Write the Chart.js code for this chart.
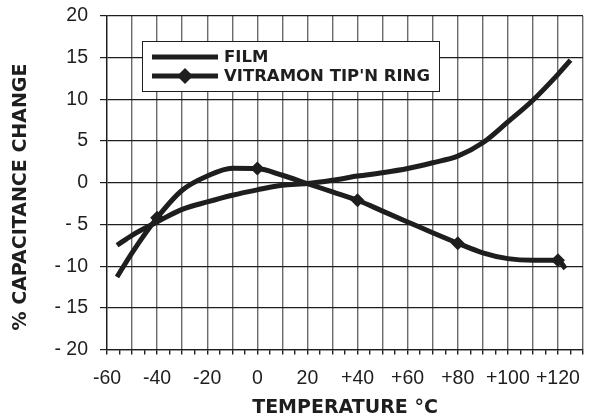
<!DOCTYPE html>
<html>
<head>
<meta charset="utf-8">
<script src="https://cdn.jsdelivr.net/npm/chart.js@4.4.1/dist/chart.umd.min.js"></script>
<style>
  body { margin: 0; background: #fff; }
  canvas { display: block; }
</style>
</head>
<body>
<canvas id="chart" width="589" height="419"></canvas>
<script>
// values
const filmTemps = [-56, -50, -40, -30, -20, -10, 0, 10, 20, 30, 40, 50, 60, 70, 80, 90, 100, 110, 120, 125];
const filmValues = [-7.5, -6.3, -4.7, -3.2, -2.3, -1.5, -0.85, -0.3, -0.1, 0.3, 0.8, 1.2, 1.7, 2.4, 3.2, 4.8, 7.3, 9.9, 13.0, 14.7];

const vitramonTemps = [-56, -50, -40, -30, -20, -10, 0, 10, 20, 30, 40, 50, 60, 70, 80, 90, 100, 110, 120, 123];
const vitramonValues = [-11.3, -8.4, -4.2, -0.9, 0.8, 1.75, 1.7, 0.9, -0.1, -1.1, -2.1, -3.4, -4.7, -6.0, -7.25, -8.4, -9.1, -9.3, -9.3, -10.3];
const vitramonMarkers = [-40, 0, 40, 80, 120];

const xTickLabels = { '-60': '-60', '-40': '-40', '-20': '-20', '0': '0', '20': '20', '40': '+40', '60': '+60', '80': '+80', '100': '+100', '120': '+120' };

const ink = '#1e1e1e';
const boldFont = 'bold 19px "DejaVu Sans"';
const tickFont = { family: 'Liberation Sans', size: 19.5 };

function points(xs, ys) {
    return xs.map(function(x, i) { return { x: x, y: ys[i] }; });
}

const overlay = {
    id: 'overlay',
    afterDraw: function(chart) {
        const c = chart.ctx;
        c.save();
        // y axis title
        c.translate(21, 197);
        c.rotate(-Math.PI / 2);
        c.font = boldFont;
        c.fillStyle = ink;
        c.textAlign = 'center';
        c.textBaseline = 'middle';
        c.fillText('% CAPACITANCE CHANGE', 0, 0);
        c.restore();

        // legend box inside the plot
        c.save();
        c.fillStyle = '#fff';
        c.fillRect(142, 41, 297, 50);
        c.strokeStyle = ink;
        c.lineWidth = 1;
        c.strokeRect(142.5, 41.5, 297, 50);
        const rows = [57, 76];
        chart.data.datasets.forEach(function(ds, i) {
            const y = rows[i];
            c.strokeStyle = ds.borderColor;
            c.lineWidth = ds.borderWidth;
            c.beginPath();
            c.moveTo(152, y);
            c.lineTo(218, y);
            c.stroke();
            if (ds.pointStyle === 'rectRot') {
                c.fillStyle = ds.borderColor;
                c.beginPath();
                c.moveTo(185, y - 8);
                c.lineTo(193, y);
                c.lineTo(185, y + 8);
                c.lineTo(177, y);
                c.closePath();
                c.fill();
            }
            c.fillStyle = ink;
            c.font = 'bold 16.5px "DejaVu Sans"';
            c.textAlign = 'left';
            c.textBaseline = 'middle';
            c.fillText(ds.label, 224, y + 1);
        });
        c.restore();
    }
};

new Chart(document.getElementById('chart'), {
    type: 'line',
    data: {
        datasets: [{
            label: 'FILM',
            data: points(filmTemps, filmValues),
            borderColor: ink,
            borderWidth: 5,
            pointRadius: 0,
            cubicInterpolationMode: 'monotone'
        }, {
            label: "VITRAMON TIP'N RING",
            data: points(vitramonTemps, vitramonValues),
            borderColor: ink,
            backgroundColor: ink,
            borderWidth: 5,
            pointStyle: 'rectRot',
            pointRadius: function(ctx) {
                return vitramonMarkers.indexOf(ctx.raw.x) >= 0 ? 7 : 0;
            },
            pointBackgroundColor: ink,
            pointBorderWidth: 0,
            cubicInterpolationMode: 'monotone'
        }]
    },
    options: {
        responsive: false,
        animation: false,
        layout: { padding: { top: 16, right: 6, left: 0, bottom: 0 } },
        plugins: {
            legend: { display: false },
            tooltip: { enabled: false }
        },
        scales: {
            x: {
                type: 'linear',
                min: -60,
                max: 130,
                afterFit: function(scale) {
                    scale.height = 69.5;
                    scale.paddingLeft = 0;
                    scale.paddingRight = 0;
                },
                ticks: {
                    stepSize: 5,
                    autoSkip: false,
                    maxRotation: 0,
                    minRotation: 0,
                    padding: 12,
                    color: ink,
                    font: tickFont,
                    callback: function(v) { return xTickLabels[String(v)] || ''; }
                },
                grid: {
                    color: function(ctx) {
                        return ctx.tick && ctx.tick.value % 10 === 0 ? '#6a6a6a' : 'rgba(0,0,0,0)';
                    },
                    lineWidth: 1.4,
                    tickColor: ink,
                    tickLength: 5
                },
                border: { color: ink, width: 1.3 },
                title: {
                    display: true,
                    text: 'TEMPERATURE \u00B0C',
                    color: ink,
                    font: { family: 'DejaVu Sans', size: 19, weight: 'bold' },
                    padding: { top: 0, bottom: 0 }
                }
            },
            y: {
                min: -20,
                max: 20,
                afterFit: function(scale) {
                    scale.width = 107;
                    scale.paddingTop = 0;
                    scale.paddingBottom = 0;
                },
                ticks: {
                    stepSize: 5,
                    padding: 12,
                    color: ink,
                    font: tickFont,
                    callback: function(v) { return v < 0 ? '- ' + (-v) : String(v); }
                },
                grid: {
                    color: ink,
                    lineWidth: 1.2,
                    tickLength: 7
                },
                border: { color: ink, width: 1.3 }
            }
        }
    },
    plugins: [overlay]
});
</script>
</body>
</html>
